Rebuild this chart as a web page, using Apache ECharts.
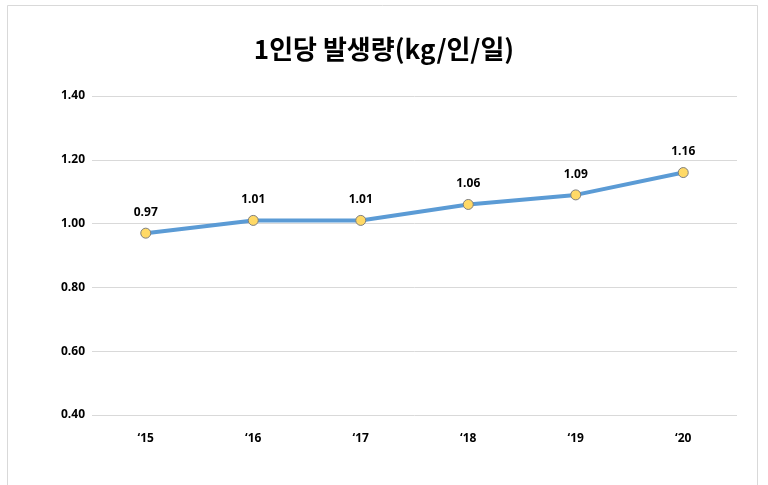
<!DOCTYPE html>
<html>
<head>
<meta charset="utf-8">
<script src="https://cdn.jsdelivr.net/npm/echarts@6/dist/echarts.min.js"></script>
<style>
  html, body { margin: 0; padding: 0; background: #fff; }
  #chart { width: 768px; height: 485px; }
</style>
</head>
<body>
<div id="chart"></div>
<script>
// values
var years = ['\u201815', '\u201816', '\u201817', '\u201818', '\u201819', '\u201820'];
var perPerson = [0.97, 1.01, 1.01, 1.06, 1.09, 1.16];

var myChart = echarts.init(document.getElementById('chart'));

var labelFont = '"Open Sans", "Liberation Sans", sans-serif';

var option = {
    animation: false,
    backgroundColor: '#fff',
    title: {
        text: '1인당 발생량(kg/인/일)',
        left: 'center',
        top: 31,
        textStyle: {
            fontFamily: '"Noto Sans CJK KR", sans-serif',
            fontSize: 26,
            fontWeight: 'bold',
            color: '#000'
        }
    },
    graphic: [{
        type: 'rect',
        shape: { x: 7.5, y: 5.5, width: 750, height: 500 },
        style: { fill: 'none', stroke: '#d9d9d9', lineWidth: 1 },
        silent: true
    }],
    grid: {
        left: 92,
        right: 31,
        top: 96,
        bottom: 70
    },
    xAxis: {
        type: 'category',
        data: years,
        boundaryGap: true,
        axisLine: { show: false },
        axisTick: { show: false },
        axisLabel: {
            margin: 18,
            fontFamily: labelFont,
            fontWeight: 'bold',
            fontSize: 12,
            color: '#000'
        }
    },
    yAxis: {
        type: 'value',
        min: 0.4,
        max: 1.4,
        interval: 0.2,
        axisLine: { show: false },
        axisTick: { show: false },
        splitLine: { lineStyle: { color: '#d9d9d9', width: 1 } },
        axisLabel: {
            margin: 7,
            fontFamily: labelFont,
            fontWeight: 'bold',
            fontSize: 12,
            color: '#000',
            formatter: function (v) { return v.toFixed(2); }
        }
    },
    series: [{
        name: '1인당 발생량',
        type: 'line',
        data: perPerson,
        symbol: 'circle',
        symbolSize: 10,
        lineStyle: { color: '#5b9bd5', width: 4 },
        itemStyle: { color: '#ffd966', borderColor: '#7f7f7f', borderWidth: 1 },
        label: {
            show: true,
            position: 'top',
            distance: 9,
            fontFamily: labelFont,
            fontWeight: 'bold',
            fontSize: 12,
            color: '#000',
            formatter: function (p) { return p.value.toFixed(2); }
        },
        z: 3
    }]
};

myChart.setOption(option);
</script>
</body>
</html>
